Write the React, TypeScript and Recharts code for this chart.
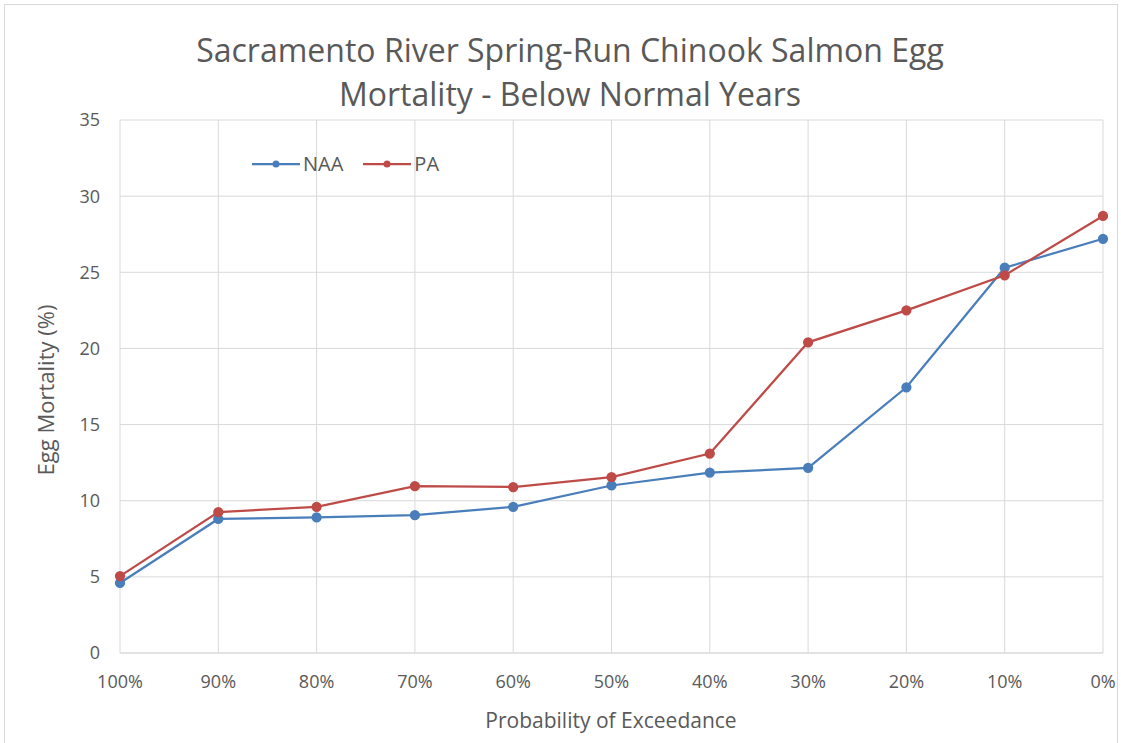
import React from 'react';
import { LineChart, Line, XAxis, YAxis, CartesianGrid } from 'recharts';

const categories = ['100%', '90%', '80%', '70%', '60%', '50%', '40%', '30%', '20%', '10%', '0%'];
const naaValues = [4.6, 8.8, 8.9, 9.05, 9.6, 11.0, 11.85, 12.15, 17.45, 25.3, 27.2];
const paValues = [5.05, 9.25, 9.6, 10.95, 10.9, 11.55, 13.1, 20.4, 22.5, 24.8, 28.7];
const yTicks = [0, 5, 10, 15, 20, 25, 30, 35];

const NAA_COLOR = '#4a7ebb';
const PA_COLOR = '#be4b48';
const TEXT_COLOR = '#595959';
const FONT = '"Open Sans", sans-serif';

const data = categories.map((c, i) => ({ name: c, NAA: naaValues[i], PA: paValues[i] }));

const LegendBox = () => (
  <div style={{ position: 'absolute', left: 252, top: 150, display: 'flex', alignItems: 'center', fontFamily: FONT, fontSize: 20, color: TEXT_COLOR }}>
    {[{ name: 'NAA', color: NAA_COLOR }, { name: 'PA', color: PA_COLOR }].map(item => (
      <div key={item.name} style={{ display: 'flex', alignItems: 'center', marginRight: 20 }}>
        <svg width={48} height={10}>
          <line x1={0} y1={5} x2={48} y2={5} stroke={item.color} strokeWidth={2.25} />
          <circle cx={24} cy={5} r={3.5} fill={item.color} />
        </svg>
        <span style={{ marginLeft: 3 }}>{item.name}</span>
      </div>
    ))}
  </div>
);

const App: React.FC = () => {
  return (
    <div style={{ position: 'absolute', left: 0, top: 0, width: 1121, height: 743, background: '#fff', overflow: 'hidden' }}>
      <div style={{ position: 'absolute', left: 4, top: 4, width: 1112, height: 760, border: '1px solid #d9d9d9' }} />
      <div style={{ position: 'absolute', left: 0, top: 28, width: 1140, textAlign: 'center', fontFamily: FONT, fontSize: 32, lineHeight: '44px', color: TEXT_COLOR }}>
        Sacramento River Spring-Run Chinook Salmon Egg<br />Mortality - Below Normal Years
      </div>
      <div style={{ position: 'absolute', left: 0, top: 706, width: 1222, textAlign: 'center', fontFamily: FONT, fontSize: 21, color: TEXT_COLOR }}>
        Probability of Exceedance
      </div>
      <div style={{ position: 'absolute', left: 45, top: 390, width: 0, height: 0 }}>
        <div style={{ position: 'absolute', left: -150, top: -15, width: 300, textAlign: 'center', transform: 'rotate(-90deg)', fontFamily: FONT, fontSize: 22, color: TEXT_COLOR, whiteSpace: 'nowrap' }}>
          Egg Mortality (%)
        </div>
      </div>
      <LineChart width={1121} height={743} data={data} margin={{ top: 120, right: 18, bottom: 60, left: 60 }}>
        <CartesianGrid stroke="#d9d9d9" strokeWidth={1} />
        <XAxis
          dataKey="name"
          height={30}
          tickLine={false}
          axisLine={{ stroke: '#d9d9d9' }}
          tickMargin={16}
          tick={{ fill: TEXT_COLOR, fontSize: 18, fontFamily: FONT }}
          interval={0}
        />
        <YAxis
          width={60}
          domain={[0, 35]}
          ticks={yTicks}
          tickLine={false}
          axisLine={false}
          tickMargin={14}
          tick={{ fill: TEXT_COLOR, fontSize: 18, fontFamily: FONT }}
        />
        <Line type="linear" dataKey="NAA" stroke={NAA_COLOR} strokeWidth={2.25} dot={{ r: 4, fill: NAA_COLOR, stroke: NAA_COLOR }} isAnimationActive={false} />
        <Line type="linear" dataKey="PA" stroke={PA_COLOR} strokeWidth={2.25} dot={{ r: 4, fill: PA_COLOR, stroke: PA_COLOR }} isAnimationActive={false} />
      </LineChart>
      <LegendBox />
    </div>
  );
};

export default App;
